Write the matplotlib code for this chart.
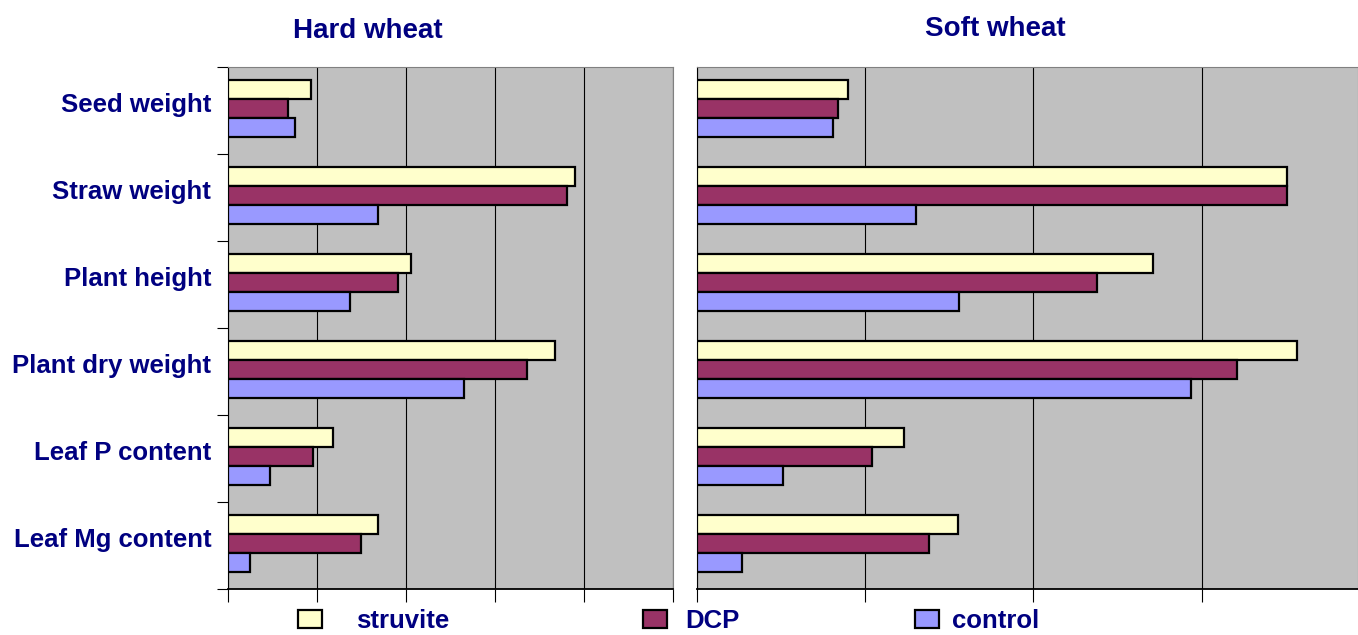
import numpy as np
import matplotlib.pyplot as plt
import matplotlib.transforms as mtransforms
from matplotlib.patches import Patch

plt.rcParams['font.family'] = ['Liberation Sans', 'DejaVu Sans']

# categories (top to bottom)
categories = ['Seed weight', 'Straw weight', 'Plant height',
              'Plant dry weight', 'Leaf P content', 'Leaf Mg content']
series = ['struvite', 'DCP', 'control']

# Hard wheat values
hard_struvite = [0.93, 3.90, 2.06, 3.67, 1.18, 1.69]
hard_dcp = [0.67, 3.81, 1.91, 3.36, 0.96, 1.49]
hard_control = [0.75, 1.69, 1.37, 2.65, 0.47, 0.25]

# Soft wheat values
soft_struvite = [0.90, 3.51, 2.71, 3.57, 1.23, 1.55]
soft_dcp = [0.84, 3.51, 2.38, 3.21, 1.04, 1.38]
soft_control = [0.81, 1.30, 1.56, 2.94, 0.51, 0.27]

colors = ['#FFFFCC', '#993366', '#9999FF']
navy = '#000080'
fs = 18.5

fig = plt.figure(figsize=(13.58, 6.35), dpi=100)
W, H = 1358, 635
ax1 = fig.add_axes([228 / W, 1 - 589 / H, (673 - 228) / W, (589 - 67) / H])
ax2 = fig.add_axes([697 / W, 1 - 589 / H, (1358 - 697) / W, (589 - 67) / H])

n = len(categories)
y = np.arange(n)
bh = 0.22


def draw(ax, vals, xmax, nticks):
    ax.set_facecolor('#C0C0C0')
    for i, v in enumerate(vals):
        ax.barh(y + (i - 1) * bh - 0.02, v, height=bh, color=colors[i],
                edgecolor='black', linewidth=1.6, zorder=3)
    ax.set_xlim(0, xmax)
    ax.set_ylim(n - 0.5, -0.5)
    ax.set_xticks(np.arange(0, nticks + 1))
    ax.set_xticklabels([])
    ax.xaxis.grid(True, color='black', linewidth=0.8, zorder=1)
    ax.tick_params(axis='x', direction='out', length=9, width=0.8)
    for s in ['top', 'right']:
        ax.spines[s].set_color('#808080')
    ax.spines['left'].set_color('black')
    ax.spines['bottom'].set_color('black')
    ax.spines['bottom'].set_linewidth(1.3)


draw(ax1, [hard_struvite, hard_dcp, hard_control], 5, 5)
draw(ax2, [soft_struvite, soft_dcp, soft_control], 3.93, 3)

# category labels on left panel, ticks at category boundaries
ax1.set_yticks(np.arange(-0.5, n + 0.5), minor=False)
ax1.set_yticklabels([])
ax1.tick_params(axis='y', direction='out', length=8, width=0.8)
ax1.set_yticks(y, minor=True)
ax1.set_yticklabels(categories, minor=True, fontsize=fs, fontweight='bold', color=navy)
ax1.tick_params(axis='y', which='minor', length=0, pad=12)
shift = mtransforms.ScaledTranslation(0, 8 / 100, fig.dpi_scale_trans)
for lab in ax1.get_yticklabels(minor=True):
    lab.set_transform(lab.get_transform() + shift)
ax2.set_yticks([])

fig.text(368 / W, 1 - 31 / H, 'Hard wheat', ha='center', va='center',
         fontsize=20, fontweight='bold', color=navy)
fig.text(995 / W, 1 - 29 / H, 'Soft wheat', ha='center', va='center',
         fontsize=20, fontweight='bold', color=navy)

# legend entries placed along the bottom
leg_x = [298, 643, 915]
leg_pad = [1.3, 0.7, 0.5]
for c, name, lx, pad in zip(colors, series, leg_x, leg_pad):
    h = Patch(facecolor=c, edgecolor='black', linewidth=1.6)
    leg = fig.legend([h], [name], loc='center left',
                     bbox_to_anchor=(lx / W, 1 - 621 / H), frameon=False,
                     borderpad=0, borderaxespad=0, handlelength=0.95,
                     handleheight=0.7, handletextpad=pad,
                     prop={'size': fs, 'weight': 'bold'})
    for t in leg.get_texts():
        t.set_color(navy)

fig.savefig('out.png', dpi=100)
